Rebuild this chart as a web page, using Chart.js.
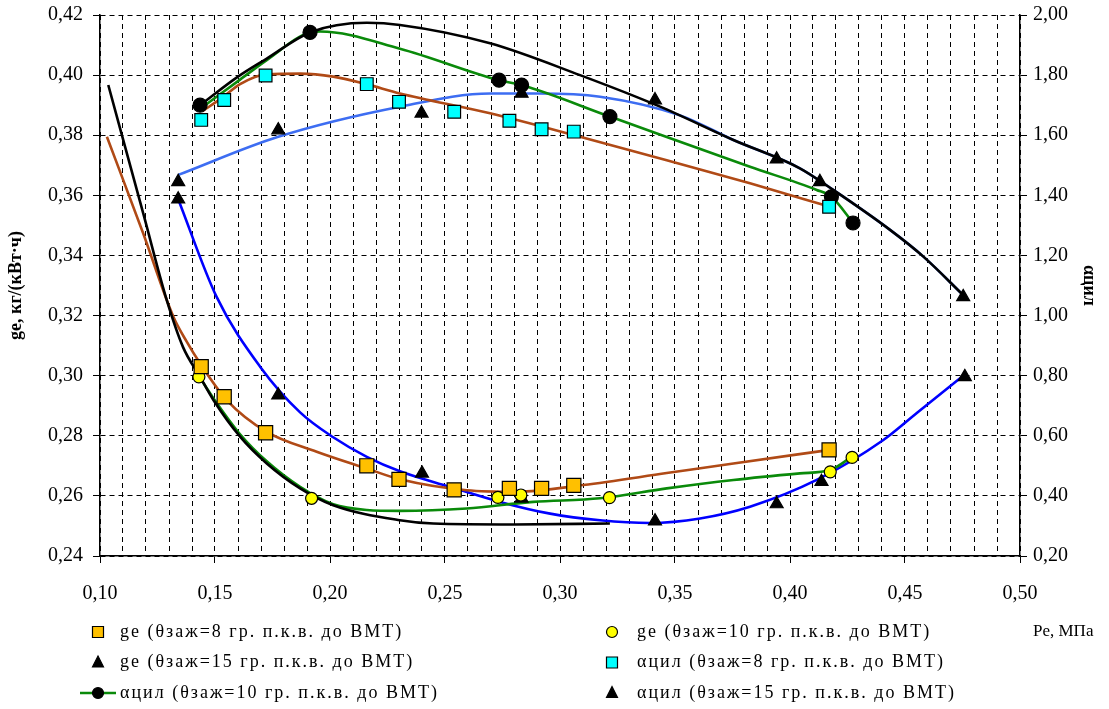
<!DOCTYPE html>
<html>
<head>
<meta charset="utf-8">
<script src="https://cdn.jsdelivr.net/npm/chart.js@4.4.1/dist/chart.umd.min.js"></script>
<style>
    html, body { margin: 0; padding: 0; background: #ffffff; }
    #wrap { width: 1109px; height: 709px; }
</style>
</head>
<body>
<div id="wrap"><canvas id="grafico" width="1109" height="709"></canvas></div>
<script>
// Pe, МПа - pontos medidos
const ge8X = [0.144, 0.154, 0.172, 0.216, 0.230, 0.254, 0.278, 0.292, 0.306, 0.417];
const ge8Y = [0.303, 0.293, 0.281, 0.270, 0.2655, 0.262, 0.2625, 0.2625, 0.2635, 0.2753];
const ge10X = [0.143, 0.192, 0.273, 0.283, 0.3215, 0.4175, 0.427];
const ge10Y = [0.2996, 0.2592, 0.2595, 0.2603, 0.2594, 0.268, 0.2728];
const ge15X = [0.134, 0.1775, 0.240, 0.2833, 0.3413, 0.3942, 0.4137, 0.476];
const ge15Y = [0.3587, 0.2935, 0.2675, 0.2592, 0.2516, 0.2573, 0.2647, 0.2996];

const a8X = [0.144, 0.154, 0.172, 0.216, 0.230, 0.254, 0.278, 0.292, 0.306, 0.417];
const a8Y = [1.651, 1.717, 1.799, 1.770, 1.711, 1.678, 1.648, 1.620, 1.612, 1.362];
const a10X = [0.1435, 0.1913, 0.2735, 0.2833, 0.3217, 0.418, 0.4274];
const a10Y = [1.700, 1.942, 1.783, 1.767, 1.662, 1.395, 1.308];
const a15X = [0.134, 0.1775, 0.2398, 0.2833, 0.3413, 0.3942, 0.413, 0.4753];
const a15Y = [1.445, 1.617, 1.673, 1.739, 1.717, 1.520, 1.445, 1.062];

// curvas (linhas de tendência)
const brownLowX = [0.103, 0.1188, 0.1319, 0.1377, 0.1435, 0.1551, 0.1725, 0.1942, 0.216, 0.2304, 0.2594, 0.2812, 0.3101, 0.3464, 0.3754, 0.4174];
const brownLowY = [0.3795, 0.3473, 0.3196, 0.3113, 0.3041, 0.2919, 0.2813, 0.2747, 0.2691, 0.2655, 0.2619, 0.2614, 0.2636, 0.2676, 0.2708, 0.2753];
const blackLowX = [0.1036, 0.1188, 0.129, 0.1361, 0.1435, 0.1493, 0.1609, 0.1725, 0.187, 0.2014, 0.2304, 0.2449, 0.28, 0.3217];
const blackLowY = [0.3967, 0.354, 0.3252, 0.3095, 0.2996, 0.2919, 0.2797, 0.2708, 0.2625, 0.2569, 0.2519, 0.2508, 0.2505, 0.2508];
const greenLowX = [0.1432, 0.1493, 0.1609, 0.1725, 0.187, 0.2014, 0.216, 0.2304, 0.2594, 0.2884, 0.3174, 0.3464, 0.3754, 0.4043, 0.4174, 0.4272];
const greenLowY = [0.2996, 0.2925, 0.2805, 0.2715, 0.263, 0.2572, 0.2553, 0.255, 0.2558, 0.258, 0.2592, 0.2625, 0.2653, 0.2675, 0.2686, 0.2732];
const blueLowX = [0.134, 0.1507, 0.1696, 0.187, 0.2014, 0.216, 0.2304, 0.2522, 0.2739, 0.2957, 0.3174, 0.3391, 0.3609, 0.3826, 0.4116, 0.4406, 0.455, 0.4761];
const blueLowY = [0.3587, 0.3262, 0.303, 0.2878, 0.2795, 0.273, 0.2682, 0.263, 0.258, 0.2541, 0.2519, 0.251, 0.2525, 0.2564, 0.2653, 0.2786, 0.2875, 0.3005];

const brownTopX = [0.1445, 0.1532, 0.1609, 0.1725, 0.187, 0.2014, 0.2157, 0.2304, 0.2696, 0.3087, 0.3464, 0.3826, 0.4174];
const brownTopY = [1.68, 1.725, 1.77, 1.803, 1.805, 1.795, 1.77, 1.739, 1.673, 1.595, 1.517, 1.44, 1.362];
const greenTopX = [0.1445, 0.16, 0.1725, 0.1913, 0.1957, 0.2304, 0.2735, 0.2833, 0.3217, 0.3826, 0.4116, 0.418, 0.4274];
const greenTopY = [1.693, 1.78, 1.85, 1.942, 1.945, 1.888, 1.783, 1.767, 1.662, 1.495, 1.418, 1.395, 1.309];
const blackTopX = [0.1435, 0.16, 0.1725, 0.1913, 0.216, 0.2304, 0.2696, 0.3087, 0.3435, 0.3754, 0.4043, 0.4188, 0.4435, 0.458, 0.4761];
const blackTopY = [1.70, 1.795, 1.855, 1.942, 1.974, 1.967, 1.906, 1.80, 1.695, 1.584, 1.49, 1.418, 1.285, 1.196, 1.062];
const blueTopX = [0.134, 0.1775, 0.2304, 0.2696, 0.2913, 0.3174, 0.3522, 0.3754, 0.4043, 0.4188, 0.4435, 0.458, 0.4761];
const blueTopY = [1.468, 1.595, 1.695, 1.739, 1.739, 1.728, 1.666, 1.584, 1.49, 1.418, 1.285, 1.196, 1.062];

const legendas = [
    'ge (θзаж=8 гр. п.к.в. до ВМТ)',
    'ge (θзаж=10 гр. п.к.в. до ВМТ)',
    'ge (θзаж=15 гр. п.к.в. до ВМТ)',
    'αцил (θзаж=8 гр. п.к.в. до ВМТ)',
    'αцил (θзаж=10 гр. п.к.в. до ВМТ)',
    'αцил (θзаж=15 гр. п.к.в. до ВМТ)'
];

const FONTE = '"Liberation Serif", "Times New Roman", serif';

function pontos(xs, ys) {
    return xs.map((x, i) => ({ x: x, y: ys[i] }));
}

function marcadores(label, xs, ys, eixo, estilo, fundo, raio) {
    return {
        label: label,
        data: pontos(xs, ys),
        yAxisID: eixo,
        showLine: false,
        pointStyle: estilo,
        pointRadius: raio,
        pointBackgroundColor: fundo,
        pointBorderColor: '#000000',
        pointBorderWidth: 1.2,
        legendaLinha: null
    };
}

function curva(xs, ys, eixo, cor) {
    return {
        label: '',
        data: pontos(xs, ys),
        yAxisID: eixo,
        showLine: true,
        borderColor: cor,
        borderWidth: 2.6,
        pointRadius: 0,
        fill: false,
        cubicInterpolationMode: 'monotone',
        curva: true
    };
}

const datasets = [
    marcadores(legendas[0], ge8X, ge8Y, 'y', 'rect', '#ffc000', 10),
    marcadores(legendas[1], ge10X, ge10Y, 'y', 'circle', '#ffff00', 6),
    marcadores(legendas[2], ge15X, ge15Y, 'y', 'triangle', '#000000', 7.5),
    marcadores(legendas[3], a8X, a8Y, 'y2', 'rect', '#00ffff', 9),
    marcadores(legendas[4], a10X, a10Y, 'y2', 'circle', '#000000', 7),
    marcadores(legendas[5], a15X, a15Y, 'y2', 'triangle', '#000000', 7.5),
    curva(blackTopX, blackTopY, 'y2', '#000000'),
    curva(greenTopX, greenTopY, 'y2', '#0a8a0a'),
    curva(brownTopX, brownTopY, 'y2', '#b04a16'),
    curva(blueTopX, blueTopY, 'y2', '#3d6df2'),
    curva(blackLowX, blackLowY, 'y', '#000000'),
    curva(greenLowX, greenLowY, 'y', '#0a8a0a'),
    curva(brownLowX, brownLowY, 'y', '#b04a16'),
    curva(blueLowX, blueLowY, 'y', '#0000ff')
];
datasets[4].legendaLinha = '#0a8a0a';

function formatar(v) {
    return v.toFixed(2).replace('.', ',');
}

function ehMaior(v) {
    return Math.round(v * 100) % 5 === 0;
}

// legenda em duas colunas + título do eixo X
const legendaPlugin = {
    id: 'legendaColunas',
    afterDraw(chart) {
        const ctx = chart.ctx;
        const area = chart.chartArea;
        ctx.save();
        ctx.fillStyle = '#000000';
        ctx.textBaseline = 'middle';
        ctx.textAlign = 'left';
        ctx.font = '17px ' + FONTE;
        ctx.fillText('Pe, МПа', area.right + 13, area.bottom + 76);

        ctx.font = '18px ' + FONTE;
        if ('letterSpacing' in ctx) ctx.letterSpacing = '2px';

        const marcas = chart.data.datasets.filter(d => !d.curva);
        marcas.forEach((ds, i) => {
            const col = i % 2;
            const lin = Math.floor(i / 2);
            const mx = col === 0 ? 98 : 612;
            const my = area.bottom + 76 + lin * 30.5;

            if (ds.legendaLinha) {
                ctx.strokeStyle = ds.legendaLinha;
                ctx.lineWidth = 2.6;
                ctx.beginPath();
                ctx.moveTo(mx - 18, my);
                ctx.lineTo(mx + 18, my);
                ctx.stroke();
            }
            ctx.fillStyle = ds.pointBackgroundColor;
            ctx.strokeStyle = '#000000';
            ctx.lineWidth = 1.2;
            ctx.beginPath();
            if (ds.pointStyle === 'rect') {
                ctx.rect(mx - 5.5, my - 5.5, 11, 11);
            } else if (ds.pointStyle === 'circle') {
                ctx.arc(mx, my, 5.5, 0, Math.PI * 2);
            } else {
                ctx.moveTo(mx, my - 6.5);
                ctx.lineTo(mx + 5.5, my + 4.5);
                ctx.lineTo(mx - 5.5, my + 4.5);
                ctx.closePath();
            }
            ctx.fill();
            ctx.stroke();

            ctx.fillStyle = '#000000';
            ctx.fillText(ds.label, mx + (col === 0 ? 22 : 25), my);
        });
        ctx.restore();
    }
};

const grade = {
    color: '#000000',
    lineWidth: 1,
    tickLength: 7
};

new Chart(document.getElementById('grafico').getContext('2d'), {
    type: 'scatter',
    data: { datasets: datasets },
    plugins: [legendaPlugin],
    options: {
        responsive: false,
        animation: false,
        layout: { padding: { top: 15, left: 0, right: 0, bottom: 0 } },
        plugins: {
            legend: { display: false },
            tooltip: { enabled: false }
        },
        scales: {
            x: {
                type: 'linear',
                min: 0.10,
                max: 0.50,
                afterFit: s => { s.height = 153; s.paddingLeft = 0; s.paddingRight = 0; },
                ticks: {
                    stepSize: 0.01,
                    autoSkip: false,
                    maxRotation: 0,
                    minRotation: 0,
                    padding: 19,
                    color: '#000000',
                    font: { family: FONTE, size: 20 },
                    callback: v => ehMaior(v) ? formatar(v) : ''
                },
                grid: Object.assign({}, grade, {
                    tickColor: c => (c.tick && ehMaior(c.tick.value)) ? '#000000' : 'rgba(0,0,0,0)'
                }),
                border: { color: '#000000', width: 1.5, dash: [5, 4] }
            },
            y: {
                type: 'linear',
                position: 'left',
                min: 0.24,
                max: 0.42,
                afterFit: s => { s.width = 100; s.paddingTop = 0; s.paddingBottom = 0; },
                ticks: {
                    stepSize: 0.02,
                    padding: 10,
                    color: '#000000',
                    font: { family: FONTE, size: 20 },
                    callback: v => formatar(v)
                },
                grid: grade,
                border: { color: '#000000', width: 1.5, dash: [5, 4] },
                title: {
                    display: true,
                    text: 'ge, кг/(кВт·ч)',
                    color: '#000000',
                    font: { family: FONTE, size: 18, weight: 'bold' },
                    padding: { top: 6, bottom: 0 }
                }
            },
            y2: {
                type: 'linear',
                position: 'right',
                min: 0.20,
                max: 2.00,
                afterFit: s => { s.width = 89; s.paddingTop = 0; s.paddingBottom = 0; },
                ticks: {
                    stepSize: 0.2,
                    padding: 6,
                    color: '#000000',
                    font: { family: FONTE, size: 20 },
                    callback: v => formatar(v)
                },
                grid: Object.assign({}, grade, { drawOnChartArea: false }),
                border: { color: '#000000', width: 1.5 },
                title: {
                    display: true,
                    text: 'αцил',
                    color: '#000000',
                    font: { family: FONTE, size: 18, weight: 'bold' },
                    padding: { top: 10, bottom: 0 }
                }
            }
        }
    }
});
</script>
</body>
</html>
